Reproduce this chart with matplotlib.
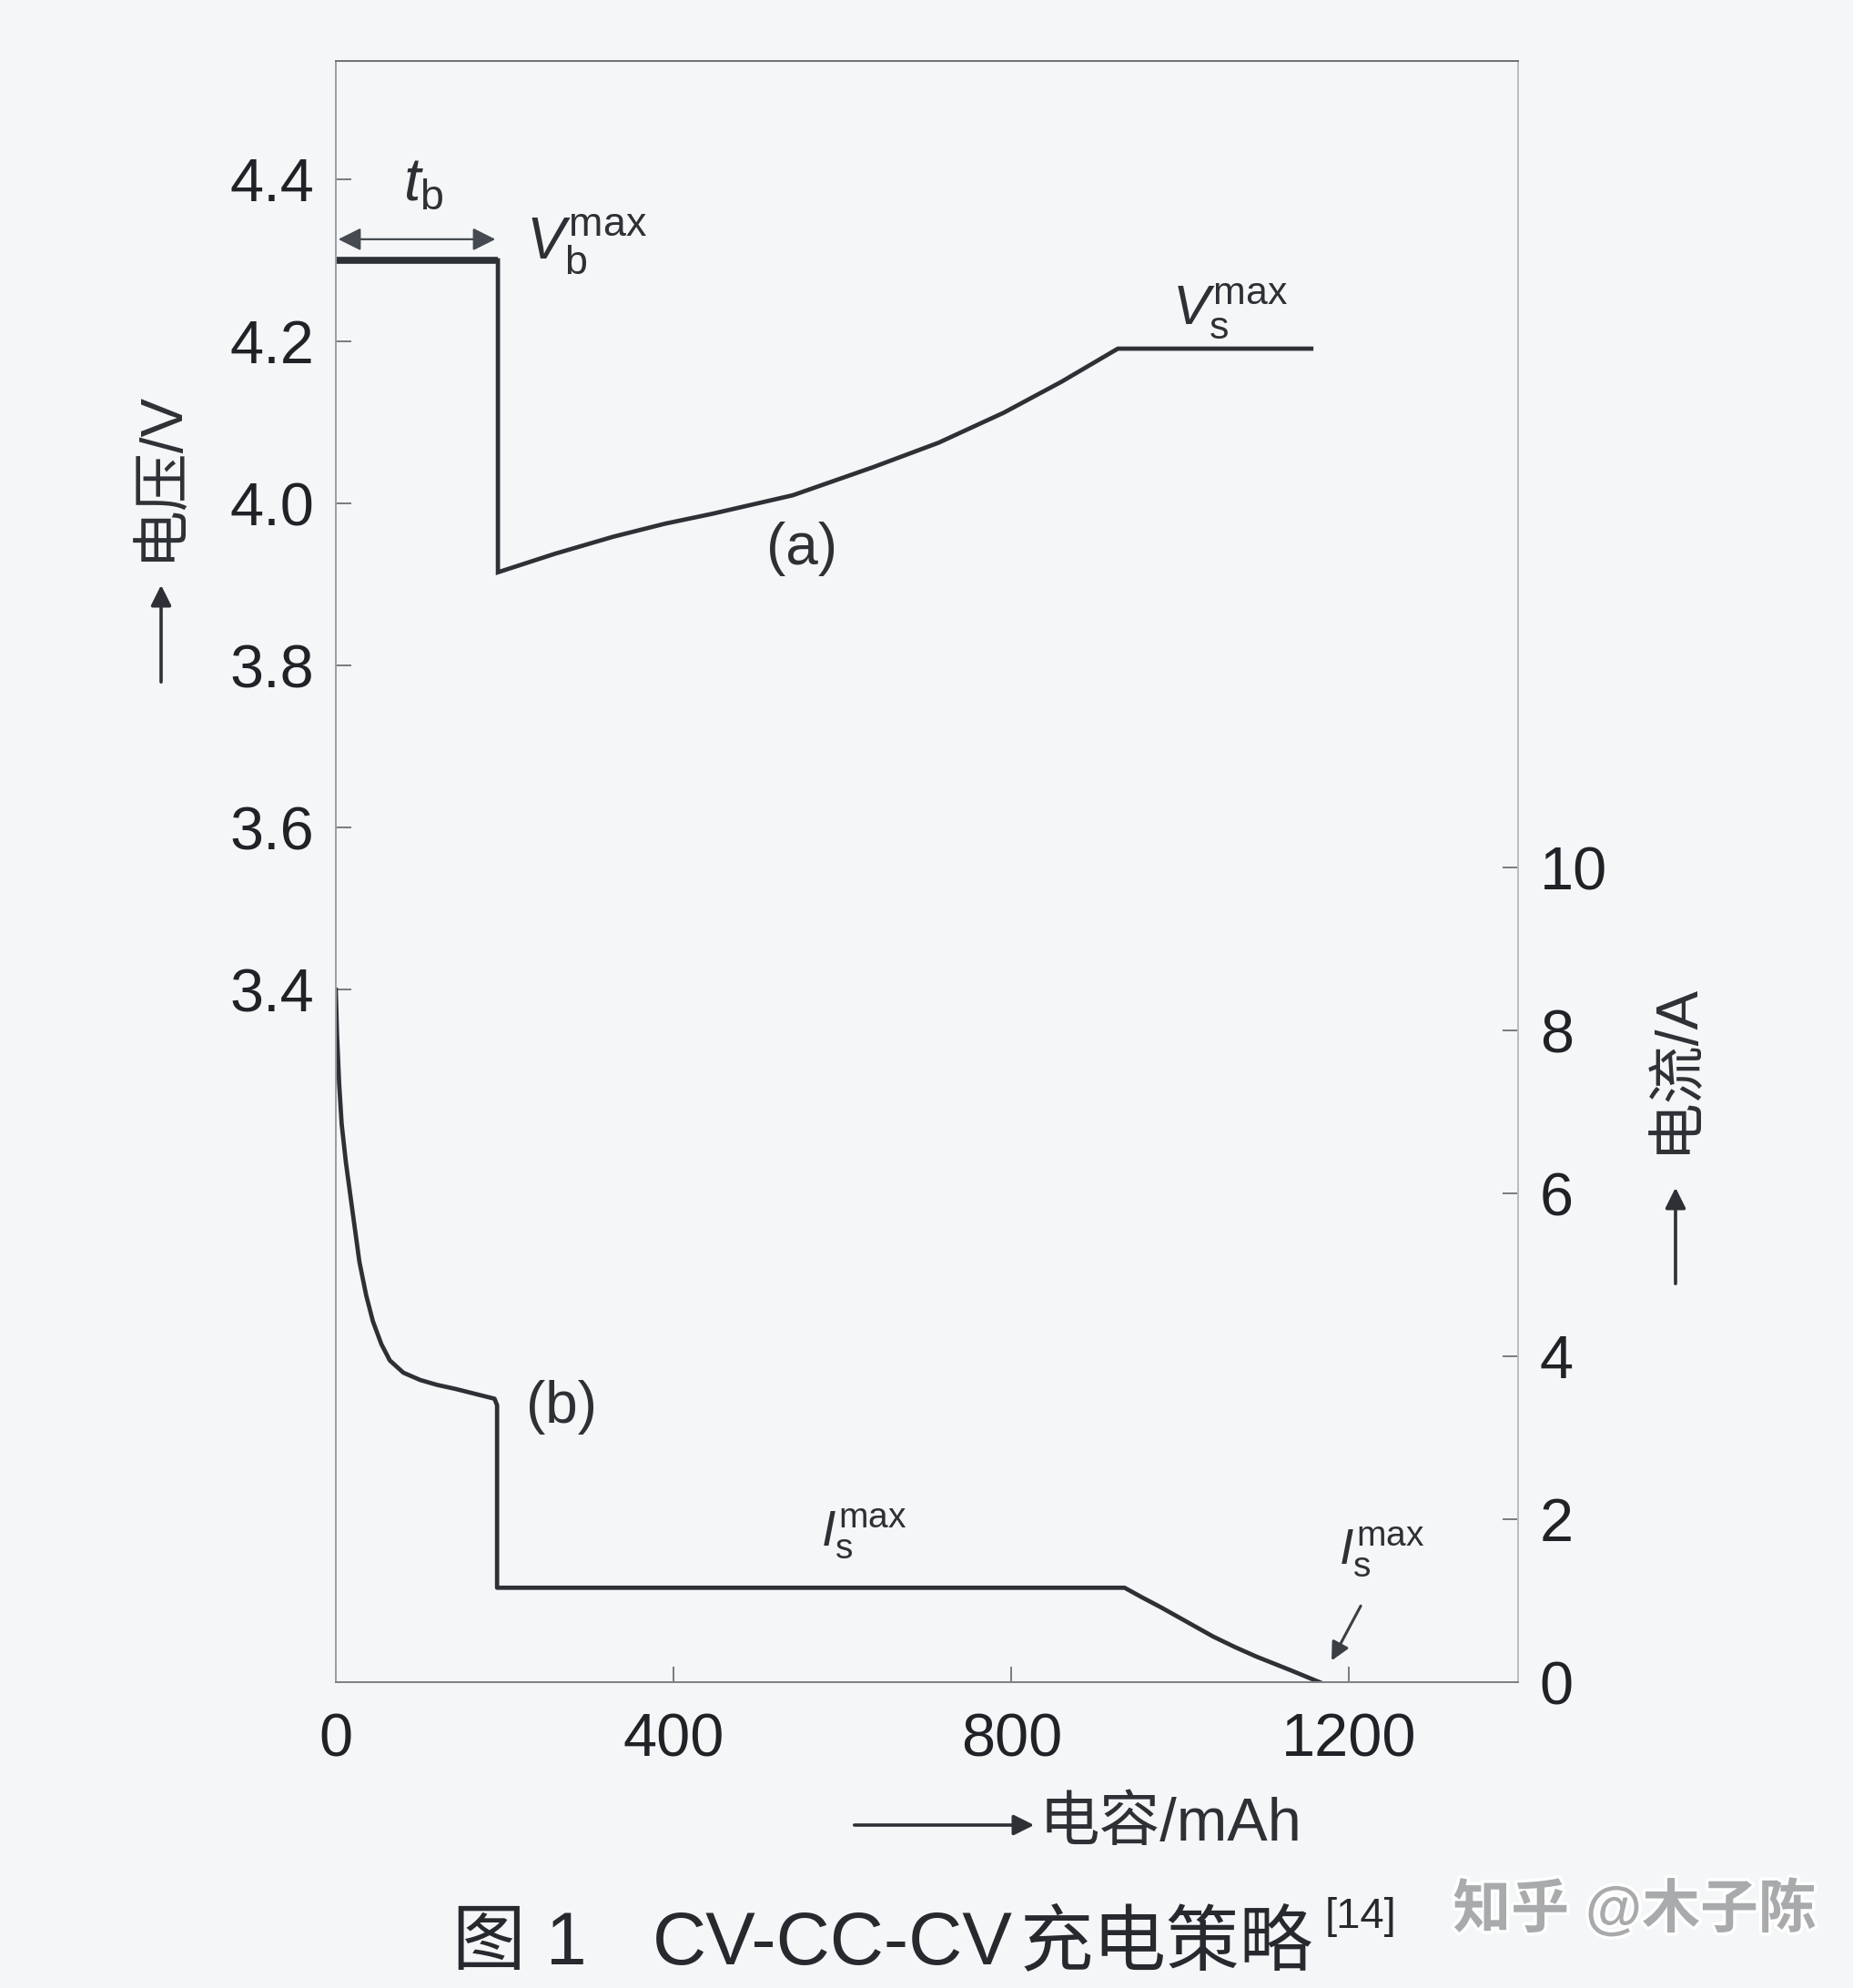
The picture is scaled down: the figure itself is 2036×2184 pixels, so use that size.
"""CV-CC-CV charging strategy: voltage (a) and current (b) vs capacity."""

import matplotlib
matplotlib.use("Agg")
import matplotlib.pyplot as plt
import matplotlib.patheffects as pe

plt.rcParams["font.family"] = ["Liberation Sans", "Noto Sans CJK SC", "DejaVu Sans"]
plt.rcParams["mathtext.fontset"] = "custom"
plt.rcParams["mathtext.rm"] = "Liberation Sans"
plt.rcParams["mathtext.it"] = "Liberation Sans:italic"

BG = "#f4f6f7"
INK = "#2d3135"

# ---- data ----
# (a) voltage curve
cap_v = [0, 192, 192, 260, 329, 390, 445, 541, 637, 714, 791, 859, 926, 1155]
volt = [4.30, 4.30, 3.915, 3.938, 3.959, 3.975, 3.987, 4.010, 4.045, 4.075, 4.112, 4.150, 4.191, 4.191]

# (b) current curve
cap_i = [0, 1.5, 4, 7, 12, 18, 28, 36, 44, 54, 64, 80, 100, 120, 142, 165, 188, 191, 191,
         934, 955, 977, 1008, 1039, 1065, 1090, 1130, 1165]
curr = [8.5, 7.95, 7.35, 6.85, 6.38, 5.92, 5.16, 4.75, 4.43, 4.15, 3.95, 3.80, 3.71, 3.65, 3.60,
        3.54, 3.48, 3.40, 1.16, 1.16, 1.04, 0.92, 0.74, 0.56, 0.43, 0.315, 0.15, 0.0]

x_ticks = [0, 400, 800, 1200]
v_ticks = [3.4, 3.6, 3.8, 4.0, 4.2, 4.4]
i_ticks = [0, 2, 4, 6, 8, 10]

fig = plt.figure(figsize=(20.36, 21.84), dpi=100, facecolor=BG)
ax = fig.add_axes([0.1812, 0.1538, 0.6381, 0.8155], facecolor=BG)
ax2 = ax.twinx()

# voltage
ax.plot(cap_v[:2], volt[:2], color=INK, lw=5.5, solid_capstyle="butt")
ax.plot(cap_v[1:], volt[1:], color=INK, lw=3.4, solid_joinstyle="miter")
# current
ax2.plot(cap_i, curr, color=INK, lw=3.4, solid_joinstyle="round")

ax.set_xlim(0, 1400)
ax.set_ylim(2.545, 4.546)
ax2.set_ylim(0, 19.9)

ax.set_xticks(x_ticks)
ax.set_xticklabels([str(t) for t in x_ticks])
ax.set_yticks(v_ticks)
ax.set_yticklabels([f"{t:.1f}" for t in v_ticks])
ax2.set_yticks(i_ticks)
ax2.set_yticklabels([str(t) for t in i_ticks])

for a in (ax, ax2):
    a.tick_params(direction="in", length=12, width=1.3, colors="#6d7277",
                  labelcolor="#1f2226", labelsize=48)
ax.tick_params(axis="y", pad=17)
ax.tick_params(axis="x", pad=24)
ax2.tick_params(axis="y", pad=17)

for a in (ax, ax2):
    a.spines["top"].set_color("#6f7479")
    a.spines["bottom"].set_color("#7d8288")
    a.spines["left"].set_color("#9aa0a6")
    a.spines["right"].set_color("#b9bdc1")
    for s in a.spines.values():
        s.set_linewidth(1.4)

# annotations on the curves
ax.annotate("", xy=(0, 4.326), xytext=(192, 4.326),
            arrowprops=dict(arrowstyle="<|-|>", color="#444a50", lw=1.6, mutation_scale=38))
ax.text(104, 4.394, r"$t_\mathrm{b}$", fontsize=48, ha="center", va="center", color=INK)
ax.text(225, 4.320, r"$V_\mathrm{b}^\mathrm{max}$", fontsize=46, ha="left", va="center", color=INK)
ax.text(990, 4.238, r"$V_\mathrm{s}^\mathrm{max}$", fontsize=44, ha="left", va="center", color=INK)
ax.text(552, 3.944, "(a)", fontsize=46, ha="center", va="center", color=INK)

ax2.text(267, 3.38, "(b)", fontsize=46, ha="center", va="center", color=INK)
ax2.text(574, 1.82, r"$I_\mathrm{s}^\mathrm{max}$", fontsize=40, ha="left", va="center", color=INK)
ax2.text(1188, 1.59, r"$I_\mathrm{s}^\mathrm{max}$", fontsize=40, ha="left", va="center", color=INK)
ax2.annotate("", xy=(1177.6, 0.238), xytext=(1215, 0.964),
             arrowprops=dict(arrowstyle="-|>", color="#3a3f44", lw=2.2, mutation_scale=30))

# axis labels with arrows (figure pixels)
W, H = 2036, 2184


def fp(x, y):
    return (x / W, 1 - y / H)


arrow_kw = dict(arrowstyle="-|>", color=INK, lw=2.6, mutation_scale=34)
fig.add_artist(matplotlib.patches.FancyArrowPatch(fp(177, 752), fp(177, 640),
                                                  transform=fig.transFigure, **arrow_kw))
fig.text(*fp(177, 522), "电压/V", rotation=90, fontsize=46, ha="center", va="center", color=INK)

fig.add_artist(matplotlib.patches.FancyArrowPatch(fp(1841, 1413), fp(1841, 1302),
                                                  transform=fig.transFigure, **arrow_kw))
fig.text(*fp(1841, 1173), "电流/A", rotation=90, fontsize=46, ha="center", va="center", color=INK)

fig.add_artist(matplotlib.patches.FancyArrowPatch(fp(936, 2005), fp(1139, 2005),
                                                  transform=fig.transFigure, **arrow_kw))
fig.text(*fp(1142, 2005), "电容/mAh", fontsize=48, ha="left", va="center", color=INK)

# caption
fig.text(*fp(497, 2158), "图 1", fontsize=58, ha="left", va="baseline", color="#262a2e")
fig.text(*fp(717, 2158), "CV-CC-CV", fontsize=59, ha="left", va="baseline", color="#262a2e")
fig.text(*fp(1121, 2158), "充电策略", fontsize=58, ha="left", va="baseline", color="#262a2e")
fig.text(*fp(1456, 2118), "[14]", fontsize=34, ha="left", va="baseline", color="#262a2e")

# watermark
fig.text(*fp(1796, 2098), "知乎 @木子陈", fontsize=46, ha="center", va="center",
         color="#a8aaac", fontweight="bold",
         path_effects=[pe.withStroke(linewidth=5, foreground="white")])

fig.savefig("out.png", dpi=100, facecolor=BG)
